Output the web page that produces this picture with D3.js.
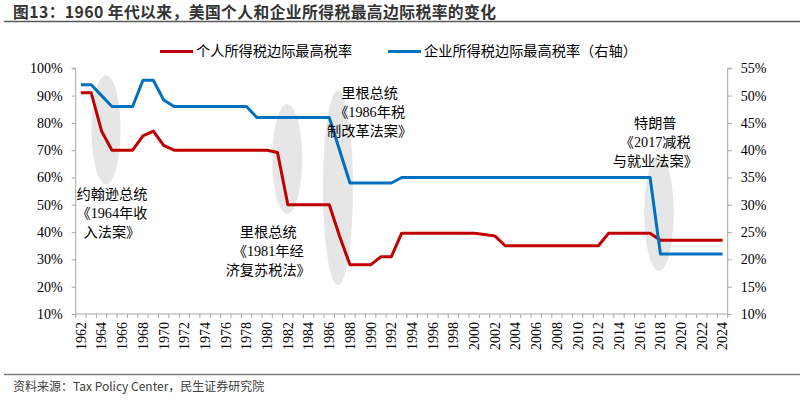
<!DOCTYPE html>
<html>
<head>
<meta charset="utf-8">
<script src="https://cdn.jsdelivr.net/npm/d3@7"></script>
<style>
  body { margin: 0; background: #fff; }
  svg { display: block; }
</style>
</head>
<body>
<svg class="chart" width="804" height="404"></svg>
<script>
/* data */
const years = d3.range(1962, 2025)
const individual = [
  91, 91, 77, 70, 70, 70, 75.25, 77, 71.75,
  70, 70, 70, 70, 70, 70, 70, 70, 70, 70,
  69.13,
  50, 50, 50, 50, 50,
  38.5,
  28, 28, 28,
  31, 31,
  39.6, 39.6, 39.6, 39.6, 39.6, 39.6, 39.6, 39.6,
  39.1, 38.6,
  35, 35, 35, 35, 35, 35, 35, 35, 35, 35,
  39.6, 39.6, 39.6, 39.6, 39.6,
  37, 37, 37, 37, 37, 37, 37
]
const corporate = [
  52, 52, 50, 48, 48, 48, 52.8, 52.8, 49.2,
  48, 48, 48, 48, 48, 48, 48, 48,
  46, 46, 46, 46, 46, 46, 46, 46,
  40,
  34, 34, 34, 34, 34,
  35, 35, 35, 35, 35, 35, 35, 35, 35, 35, 35, 35, 35,
  35, 35, 35, 35, 35, 35, 35, 35, 35, 35, 35, 35,
  21, 21, 21, 21, 21, 21, 21
]
const leftTicks = [10, 20, 30, 40, 50, 60, 70, 80, 90, 100]
const rightTicks = [10, 15, 20, 25, 30, 35, 40, 45, 50, 55]
const seriesNames = ['个人所得税边际最高税率', '企业所得税边际最高税率（右轴）']
const seriesColors = ['#C00000', '#0070C0']

// shaded ellipses: center year / left-axis value, half width in years, half height in % points
const bubbles = [
  { year: 1964.43, value: 77.5, ryears: 1.4, rvalue: 20 },
  { year: 1981.94, value: 66.8, ryears: 1.45, rvalue: 20 },
  { year: 1986.84, value: 56.3, ryears: 1.45, rvalue: 35.7 },
  { year: 2017.86, value: 47.0, ryears: 1.43, rvalue: 21.2 }
]
const notes = [
  { year: 1965.0, value: 53.8, lines: ['约翰逊总统', '《1964年收', '入法案》'] },
  { year: 1980.1, value: 39.9, lines: ['里根总统', '《1981年经', '济复苏税法》'] },
  { year: 1989.9, value: 90.8, lines: ['里根总统', '《1986年税', '制改革法案》'] },
  { year: 2017.5, value: 79.9, lines: ['特朗普', '《2017减税', '与就业法案》'] }
]

const svg = d3.select('.chart')
const serif = '"Liberation Serif", "Times New Roman", "Noto Sans CJK SC", serif'
const sans = '"Noto Sans CJK SC", "Noto Sans", sans-serif'
const axisColor = '#a6a6a6'

const plotLeft = 75.7, plotRight = 727.7, plotTop = 68.3, plotBottom = 314

const x = d3.scaleBand().domain(years).range([plotLeft, plotRight]).padding(0)
const bw = x.bandwidth()
const cx = yr => x(yr) + bw / 2
// fractional year -> pixel (for annotations)
const xf = d3.scaleLinear().domain([1962, 2024]).range([cx(1962), cx(2024)])
const yL = d3.scaleLinear().domain([10, 100]).range([plotBottom, plotTop])
const yR = d3.scaleLinear().domain([10, 55]).range([plotBottom, plotTop])

/* title */
svg.append('text')
  .attr('x', 13).attr('y', 18)
  .attr('font-family', sans).attr('font-weight', 'bold')
  .attr('font-size', '15.8px').attr('letter-spacing', '0.4px').attr('fill', '#333')
  .text('图13：1960 年代以来，美国个人和企业所得税最高边际税率的变化')
svg.append('line')
  .attr('x1', 4).attr('x2', 800).attr('y1', 21.5).attr('y2', 21.5)
  .attr('stroke', '#595959').attr('stroke-width', 1.6)

/* footer */
svg.append('line')
  .attr('x1', 4).attr('x2', 800).attr('y1', 374.5).attr('y2', 374.5)
  .attr('stroke', '#7f7f7f').attr('stroke-width', 1.5)
svg.append('text')
  .attr('x', 13).attr('y', 391)
  .attr('font-family', sans).attr('font-size', '12px').attr('fill', '#404040')
  .text('资料来源：Tax Policy Center，民生证券研究院')

/* ellipses */
svg.append('g').selectAll('ellipse')
  .data(bubbles).enter().append('ellipse')
  .attr('cx', d => xf(d.year))
  .attr('cy', d => yL(d.value))
  .attr('rx', d => xf(1962 + d.ryears) - xf(1962))
  .attr('ry', d => yL(10) - yL(10 + d.rvalue))
  .attr('fill', '#e6e6e6')

/* axes */
const gL = svg.append('g').attr('transform', `translate(${plotLeft},0)`)
  .call(d3.axisLeft(yL).tickValues(leftTicks).tickSize(4).tickPadding(9)
    .tickFormat(d => d + '%'))
const gR = svg.append('g').attr('transform', `translate(${plotRight},0)`)
  .call(d3.axisRight(yR).tickValues(rightTicks).tickSize(4).tickPadding(9)
    .tickFormat(d => d + '%'))
const gX = svg.append('g').attr('transform', `translate(0,${plotBottom})`)
  .call(d3.axisBottom(x).tickSize(0).tickPadding(0)
    .tickFormat(d => d % 2 === 0 ? d : ''))

;[gL, gR, gX].forEach(g => {
  g.select('.domain').attr('stroke', axisColor)
  g.selectAll('.tick line').attr('stroke', axisColor)
  g.selectAll('text').attr('font-family', serif).attr('font-size', '14px').attr('fill', '#000')
})
gL.select('.domain').attr('d', `M-4,${plotTop}H0V${plotBottom}`)
gR.select('.domain').attr('d', `M4,${plotTop}H0V${plotBottom}`)
gX.select('.domain').attr('d', `M${plotLeft},0H${plotRight}`)
gX.selectAll('.tick text')
  .attr('text-anchor', 'end')
  .attr('dy', '0.35em')
  .attr('transform', 'translate(0,8) rotate(-90)')

// category boundary ticks
gX.selectAll('.bound')
  .data(years.concat([null])).enter().append('line')
  .attr('class', 'bound')
  .attr('x1', d => d === null ? plotRight : x(d))
  .attr('x2', d => d === null ? plotRight : x(d))
  .attr('y1', 0).attr('y2', 4)
  .attr('stroke', axisColor)

/* lines */
const lineL = d3.line().x((d, i) => cx(years[i])).y(d => yL(d))
const lineR = d3.line().x((d, i) => cx(years[i])).y(d => yR(d))
svg.append('path').datum(individual)
  .attr('d', lineL).attr('fill', 'none')
  .attr('stroke', seriesColors[0]).attr('stroke-width', 3)
  .attr('stroke-linejoin', 'round')
svg.append('path').datum(corporate)
  .attr('d', lineR).attr('fill', 'none')
  .attr('stroke', seriesColors[1]).attr('stroke-width', 3)
  .attr('stroke-linejoin', 'round')

/* annotations */
const noteG = svg.append('g').selectAll('text')
  .data(notes).enter().append('text')
  .attr('text-anchor', 'middle')
  .attr('font-family', serif).attr('font-size', '14.2px').attr('fill', '#000')
  .attr('transform', d => `translate(${xf(d.year)},${yL(d.value)})`)
noteG.selectAll('tspan')
  .data(d => d.lines).enter().append('tspan')
  .attr('x', 0).attr('y', (s, i) => i * 18.7)
  .attr('dy', '0.35em')
  .text(s => s)

/* legend */
const legendX = [160, 388]
const legend = svg.append('g').selectAll('g')
  .data(seriesNames).enter().append('g')
  .attr('transform', (d, i) => `translate(${legendX[i]},51.5)`)
legend.append('line')
  .attr('x1', 0).attr('x2', 33).attr('y1', 0).attr('y2', 0)
  .attr('stroke', (d, i) => seriesColors[i]).attr('stroke-width', 3)
legend.append('text')
  .attr('x', 36).attr('dy', '0.35em')
  .attr('font-family', serif).attr('font-size', '14.2px').attr('fill', '#000')
  .text(d => d)
</script>
</body>
</html>
